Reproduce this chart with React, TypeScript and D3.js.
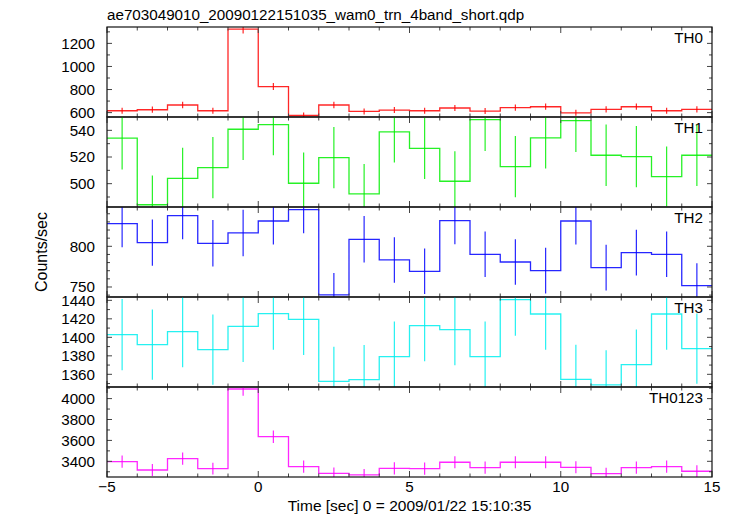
import React from "react";
import * as d3 from "d3";

const title = "ae703049010_20090122151035_wam0_trn_4band_short.qdp";
const xLabel = "Time [sec] 0 = 2009/01/22 15:10:35";
const yLabel = "Counts/sec";

const binStarts = [-5, -4, -3, -2, -1, 0, 1, 2, 3, 4, 5, 6, 7, 8, 9, 10, 11, 12, 13, 14];
const binWidth = 1;

const th0 = [616, 625, 666, 616, 1323, 826, 575, 666, 610, 622, 616, 640, 613, 643, 651, 598, 628, 651, 616, 628];
const th0Err = [26, 27, 28, 26, 38, 31, 25, 28, 26, 26, 26, 27, 26, 27, 27, 26, 27, 27, 26, 27];

const th1 = [534.2, 484.2, 504, 512, 540.8, 544.3, 500.3, 519.5, 492.3, 538.8, 526.5, 501.8, 548, 512.8, 534.3, 547.3, 521.3, 520.3, 505.3, 521.3];
const th1Err = [23.5, 22, 23, 23, 23, 23, 23, 23, 22.5, 23, 23, 22.5, 23.5, 23, 23, 23.5, 23, 23, 22.5, 23];

const th2 = [827.9, 804.5, 837.7, 803.7, 816.4, 831.1, 845.1, 740.2, 808.6, 783.2, 769.3, 831.6, 790.2, 780.7, 770.1, 831.1, 773.8, 792.2, 790.2, 751.6];
const th2Err = [29, 28.5, 29, 28.5, 28.5, 29, 29, 27, 28.5, 28, 28, 29, 28, 28, 28, 29, 28, 28, 28, 27.5];

const th3 = [1402.9, 1392.1, 1406.1, 1386.7, 1411.9, 1425.6, 1419.5, 1352.4, 1354.2, 1379.1, 1412.6, 1408.3, 1379.1, 1440.7, 1425.2, 1354.6, 1348.5, 1370.5, 1425.2, 1387.7];
const th3Err = [38.5, 38, 38.5, 38, 38.5, 39, 38.5, 37.5, 37.5, 38, 38.5, 38.5, 38, 39, 38.5, 37.5, 37.5, 38, 38.5, 38];

const th0123 = [3397, 3317, 3426, 3330, 4092, 3636, 3349, 3285, 3270, 3333, 3330, 3391, 3340, 3391, 3391, 3343, 3282, 3340, 3349, 3305];
const th0123Err = [58, 57, 59, 57, 64, 60, 58, 57, 57, 58, 58, 58, 58, 58, 58, 58, 57, 58, 58, 57];

const xTicksMajor = [-5, 0, 5, 10, 15];
const xTickLabels = ["\u22125", "0", "5", "10", "15"];

interface PanelDef {
  name: string;
  values: number[];
  errs: number[];
  color: string;
  domain: [number, number];
  major: number[];
  minorStep: number;
}

const panels: PanelDef[] = [
  { name: "TH0", values: th0, errs: th0Err, color: "#ff0000", domain: [562, 1342], major: [600, 800, 1000, 1200], minorStep: 100 },
  { name: "TH1", values: th1, errs: th1Err, color: "#00ee00", domain: [482.5, 550], major: [500, 520, 540], minorStep: 10 },
  { name: "TH2", values: th2, errs: th2Err, color: "#0000ff", domain: [737.7, 848.3], major: [750, 800], minorStep: 10 },
  { name: "TH3", values: th3, errs: th3Err, color: "#00eeee", domain: [1346.3, 1443.6], major: [1360, 1380, 1400, 1420, 1440], minorStep: 10 },
  { name: "TH0123", values: th0123, errs: th0123Err, color: "#ff00ff", domain: [3250, 4111], major: [3400, 3600, 3800, 4000], minorStep: 100 },
];

const W = 733;
const H = 516;
const X0 = 107;
const X1 = 712;
const TOP = 27;
const PH = 90;
const FONT = "'Liberation Sans', Arial, Helvetica, sans-serif";

export default function App() {
  const x = d3.scaleLinear().domain([-5, 15]).range([X0, X1]);
  const xMinor = d3.range(-5, 15.001, 1);
  const bottom = TOP + PH * panels.length;

  return (
    <svg width={W} height={H} style={{ position: "absolute", left: 0, top: 0, background: "#fff" }} fontFamily={FONT}>
      <rect x={0} y={0} width={W} height={H} fill="#fff" />
      <defs>
        {panels.map((p, i) => (
          <clipPath id={`clip${i}`} key={i}>
            <rect x={X0} y={TOP + i * PH} width={X1 - X0} height={PH} />
          </clipPath>
        ))}
      </defs>
      <text x={X0} y={20} fontSize={15.2} fill="#000">{title}</text>
      {panels.map((p, i) => {
        const top = TOP + i * PH;
        const bot = top + PH;
        const y = d3.scaleLinear().domain(p.domain).range([bot, top]);
        const path = d3.path();
        p.values.forEach((v, k) => {
          const xa = x(binStarts[k]);
          const xb = x(binStarts[k] + binWidth);
          if (k === 0) path.moveTo(xa, y(v));
          else path.lineTo(xa, y(v));
          path.lineTo(xb, y(v));
        });
        const minorTicks = d3
          .range(Math.ceil(p.domain[0] / p.minorStep) * p.minorStep, p.domain[1] + 1e-9, p.minorStep)
          .filter((t) => !p.major.some((m) => Math.abs(m - t) < 1e-6));
        return (
          <g key={p.name}>
            <g clipPath={`url(#clip${i})`}>
              <path d={path.toString()} fill="none" stroke={p.color} strokeWidth={1.3} strokeOpacity={0.85} />
              {p.values.map((v, k) => {
                const xc = x(binStarts[k] + binWidth / 2);
                return (
                  <line key={k} x1={xc} x2={xc} y1={y(v - p.errs[k])} y2={y(v + p.errs[k])} stroke={p.color} strokeWidth={1.2} strokeOpacity={0.85} />
                );
              })}
            </g>
            {/* x ticks top and bottom */}
            {xMinor.map((t) => {
              const isMajor = xTicksMajor.includes(t);
              const len = isMajor ? 6 : 3.5;
              return (
                <g key={t} stroke="#444" strokeWidth={1}>
                  <line x1={x(t)} x2={x(t)} y1={top} y2={top + len} />
                  <line x1={x(t)} x2={x(t)} y1={bot} y2={bot - len} />
                </g>
              );
            })}
            {/* y ticks */}
            {p.major.map((t) => (
              <g key={`M${t}`}>
                <line x1={X0} x2={X0 + 5} y1={y(t)} y2={y(t)} stroke="#444" />
                <line x1={X1} x2={X1 - 5} y1={y(t)} y2={y(t)} stroke="#444" />
                <text x={X0 - 12} y={y(t)} dy="0.36em" textAnchor="end" fontSize={15.2} fill="#000">
                  {t}
                </text>
              </g>
            ))}
            {minorTicks.map((t) => (
              <g key={`m${t}`} stroke="#444">
                <line x1={X0} x2={X0 + 3} y1={y(t)} y2={y(t)} />
                <line x1={X1} x2={X1 - 3} y1={y(t)} y2={y(t)} />
              </g>
            ))}
            <rect x={X0} y={top} width={X1 - X0} height={PH} fill="none" stroke="#111" strokeWidth={1.2} />
            <text x={703} y={top + 16} textAnchor="end" fontSize={15.2} fill="#000">
              {p.name}
            </text>
          </g>
        );
      })}
      {xTicksMajor.map((t, k) => (
        <text key={t} x={x(t)} y={492} textAnchor="middle" fontSize={15.2} fill="#000">
          {xTickLabels[k]}
        </text>
      ))}
      <text x={(X0 + X1) / 2} y={511} textAnchor="middle" fontSize={15.5} fill="#000">
        {xLabel}
      </text>
      <text transform={`translate(47,${(TOP + bottom) / 2}) rotate(-90)`} textAnchor="middle" fontSize={16} fill="#000">
        {yLabel}
      </text>
    </svg>
  );
}
